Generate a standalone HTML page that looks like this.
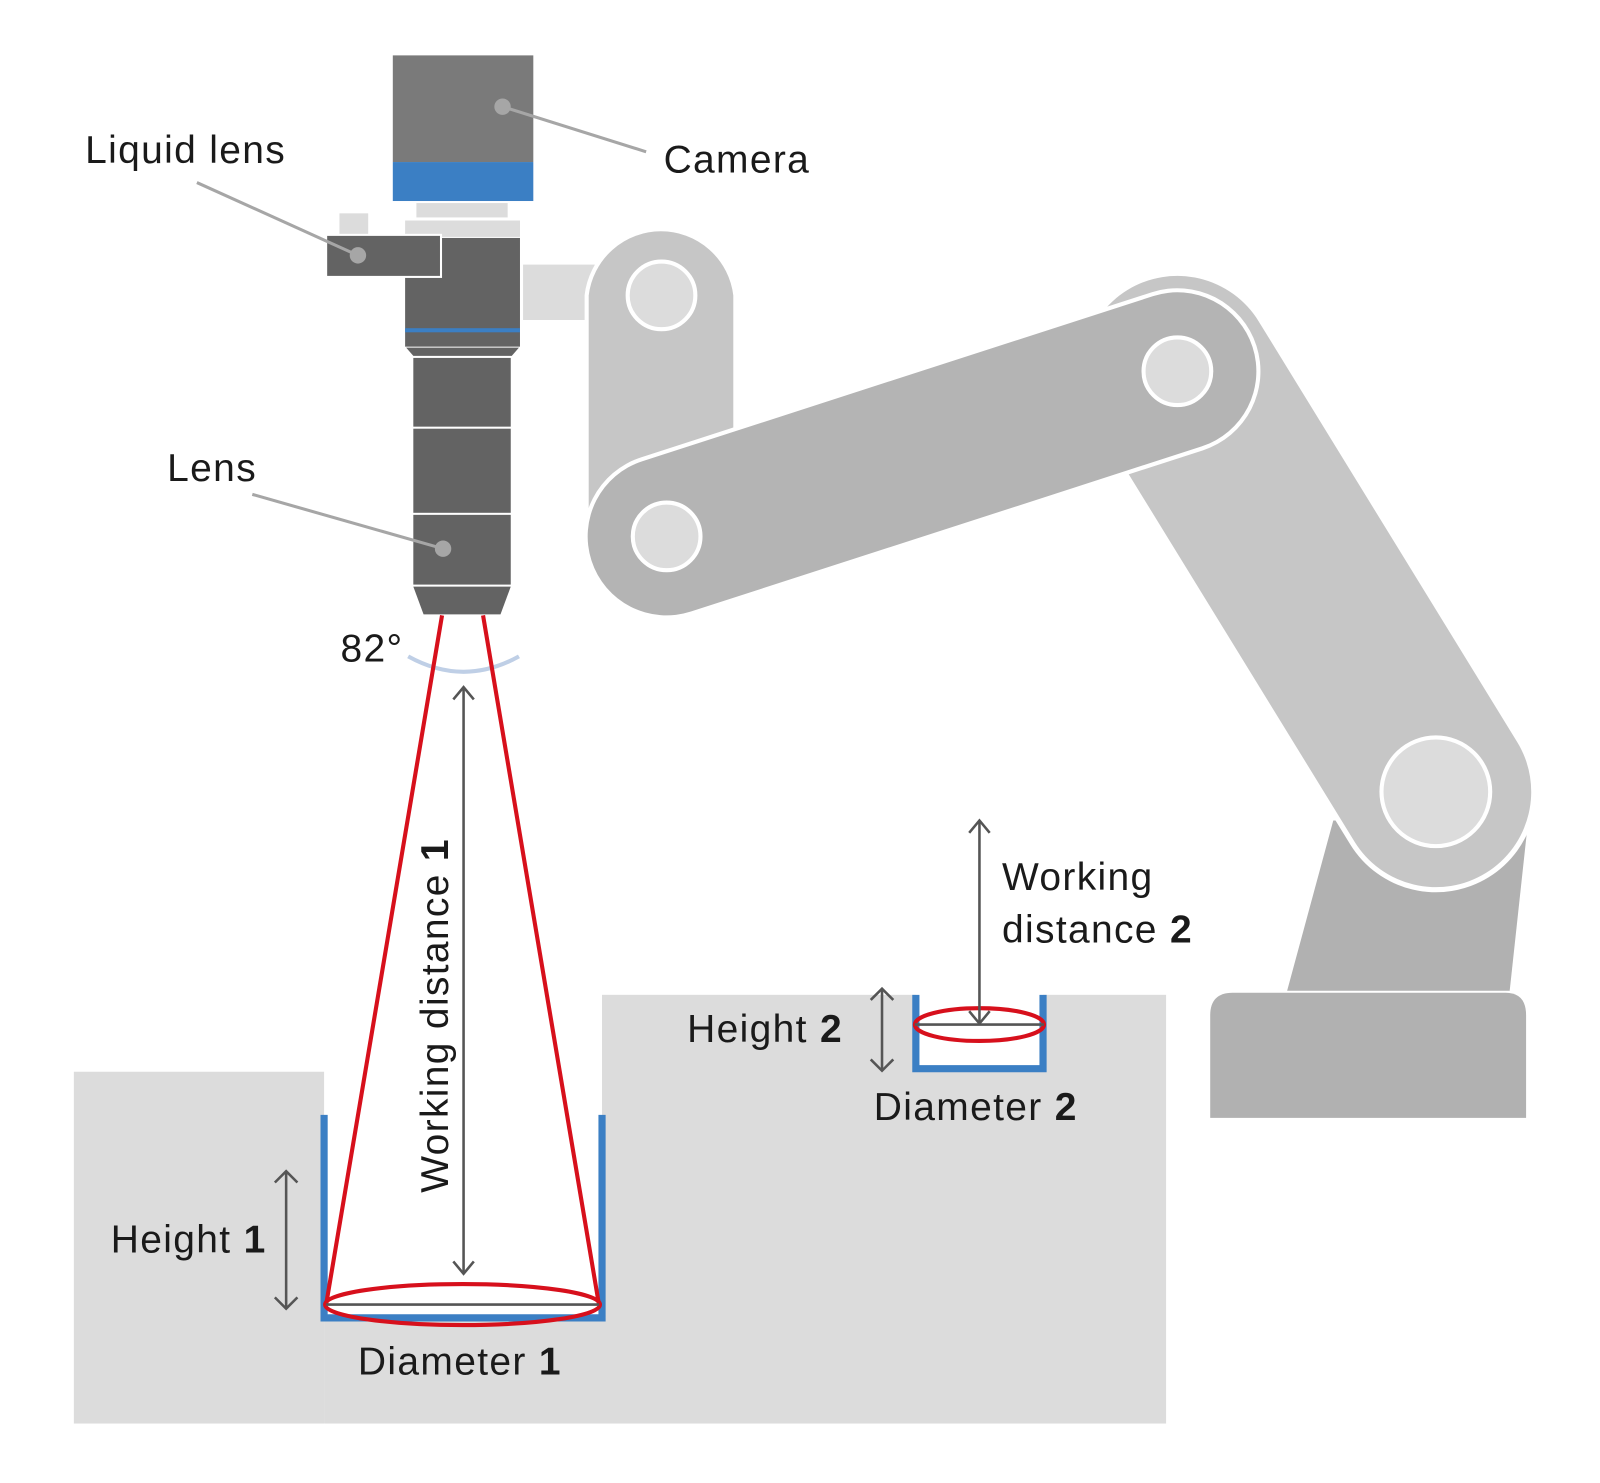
<!DOCTYPE html>
<html><head><meta charset="utf-8"><style>
html,body{margin:0;padding:0;background:#fff}
svg{display:block}
text{font-family:"Liberation Sans",sans-serif;fill:#1a1a1a;letter-spacing:1.3px}
</style></head><body>
<svg width="1600" height="1483" viewBox="0 0 1600 1483" xmlns="http://www.w3.org/2000/svg">
<g transform="scale(1.0256)">
<rect x="72" y="1045" width="244" height="343" fill="#dcdcdc"/>
<rect x="587" y="970" width="550" height="418" fill="#dcdcdc"/>
<rect x="316" y="1288" width="271" height="100" fill="#dcdcdc"/>
<rect x="893" y="968" width="124" height="74" fill="#fff"/>

<polygon points="1300,800 1490,800 1472,966 1255,966" fill="#b1b1b1"/>
<path d="M1180,990 Q1180,968 1202,968 L1468,968 Q1488,968 1488,990 L1488,1090 L1180,1090 Z" fill="#b1b1b1"/>
<line x1="1148" y1="362" x2="1400" y2="772" stroke="#fff" stroke-width="196" stroke-linecap="round"/>
<line x1="1148" y1="362" x2="1400" y2="772" stroke="#c6c6c6" stroke-width="186" stroke-linecap="round"/>
<rect x="510" y="258" width="70" height="54" fill="#dcdcdc"/>
<path d="M572,288 A73,73 0 0 1 717,288 L717,530 L572,530 Z" fill="#c6c6c6" stroke="#fff" stroke-width="4"/>
<circle cx="645" cy="288" r="33" fill="#dcdcdc" stroke="#fff" stroke-width="4"/>
<line x1="650" y1="523" x2="1148" y2="362" stroke="#fff" stroke-width="162" stroke-linecap="round"/>
<line x1="650" y1="523" x2="1148" y2="362" stroke="#b4b4b4" stroke-width="154" stroke-linecap="round"/>
<circle cx="650" cy="523" r="33" fill="#dcdcdc" stroke="#fff" stroke-width="4"/>
<circle cx="1148" cy="362" r="33" fill="#dcdcdc" stroke="#fff" stroke-width="4"/>
<circle cx="1400" cy="772" r="53" fill="#dcdcdc" stroke="#fff" stroke-width="4"/>

<rect x="383" y="54" width="137" height="104" fill="#7a7a7a"/>
<rect x="383" y="158" width="137" height="38" fill="#3b7fc4"/>
<rect x="406" y="198" width="89" height="14" fill="#dcdcdc"/>
<rect x="395" y="215" width="112" height="16" fill="#dcdcdc"/>
<rect x="331" y="208" width="28" height="22" fill="#dcdcdc"/>
<rect x="395" y="232" width="112" height="106" fill="#636363"/>
<rect x="395" y="320" width="112" height="4" fill="#3b7fc4"/>
<rect x="318" y="229" width="112" height="41" fill="#636363" stroke="#fff" stroke-width="2"/>
<polygon points="396,339 506,339 499,347 403,347" fill="#636363"/>
<rect x="403" y="349" width="95" height="67" fill="#636363"/>
<rect x="403" y="418" width="95" height="82" fill="#636363"/>
<rect x="403" y="502" width="95" height="68" fill="#636363"/>
<polygon points="403,572 498,572 488,599 413,599" fill="#636363"/>

<g stroke="#a6a6a6" stroke-width="3" fill="#a6a6a6">
<line x1="490" y1="104" x2="630" y2="148"/><circle cx="490" cy="104" r="8" stroke="none"/>
<line x1="349" y1="249" x2="192" y2="178"/><circle cx="349" cy="249" r="8" stroke="none"/>
<line x1="432" y1="535" x2="246" y2="482"/><circle cx="432" cy="535" r="8" stroke="none"/>
</g>

<path d="M398,640 Q452,670 506,640" fill="none" stroke="#bfcfe6" stroke-width="4"/>

<path d="M316,1087 L316,1285 L587,1285 L587,1087" fill="none" stroke="#3b7fc4" stroke-width="7"/>
<path d="M893,970 L893,1042 L1017,1042 L1017,970" fill="none" stroke="#3b7fc4" stroke-width="7"/>

<g stroke="#d7101c" stroke-width="4" fill="none">
<line x1="431" y1="600" x2="318" y2="1272"/>
<line x1="471" y1="600" x2="584" y2="1272"/>
<ellipse cx="451" cy="1272" rx="134" ry="20"/>
<ellipse cx="955" cy="999" rx="63" ry="16"/>
</g>
<g stroke="#555" stroke-width="2.5" fill="none">
<line x1="318" y1="1272" x2="584" y2="1272"/>
<line x1="892" y1="999" x2="1018" y2="999"/>
<line x1="452" y1="670" x2="452" y2="1242"/>
<polyline points="442,682 452,670 462,682"/><polyline points="442,1230 452,1242 462,1230"/>
<line x1="955" y1="800" x2="955" y2="998"/>
<polyline points="945,812 955,800 965,812"/><polyline points="945,986 955,998 965,986"/>
<line x1="279" y1="1142" x2="279" y2="1276"/>
<polyline points="268,1153 279,1142 290,1153"/><polyline points="268,1265 279,1276 290,1265"/>
<line x1="860" y1="964" x2="860" y2="1044"/>
<polyline points="849,975 860,964 871,975"/><polyline points="849,1033 860,1044 871,1033"/>
</g>

<g font-size="38">
<text x="83" y="159">Liquid lens</text>
<text x="647" y="168">Camera</text>
<text x="163" y="469">Lens</text>
<text x="332" y="645">82°</text>
<text x="977" y="868">Working</text>
<text x="977" y="919">distance <tspan font-weight="bold">2</tspan></text>
<text x="670" y="1016">Height <tspan font-weight="bold">2</tspan></text>
<text x="852" y="1092">Diameter <tspan font-weight="bold">2</tspan></text>
<text x="108" y="1221">Height <tspan font-weight="bold">1</tspan></text>
<text x="349" y="1340">Diameter <tspan font-weight="bold">1</tspan></text>
<text transform="translate(437,1163) rotate(-90)">Working distance <tspan font-weight="bold">1</tspan></text>
</g>
</g>
</svg>
</body></html>
